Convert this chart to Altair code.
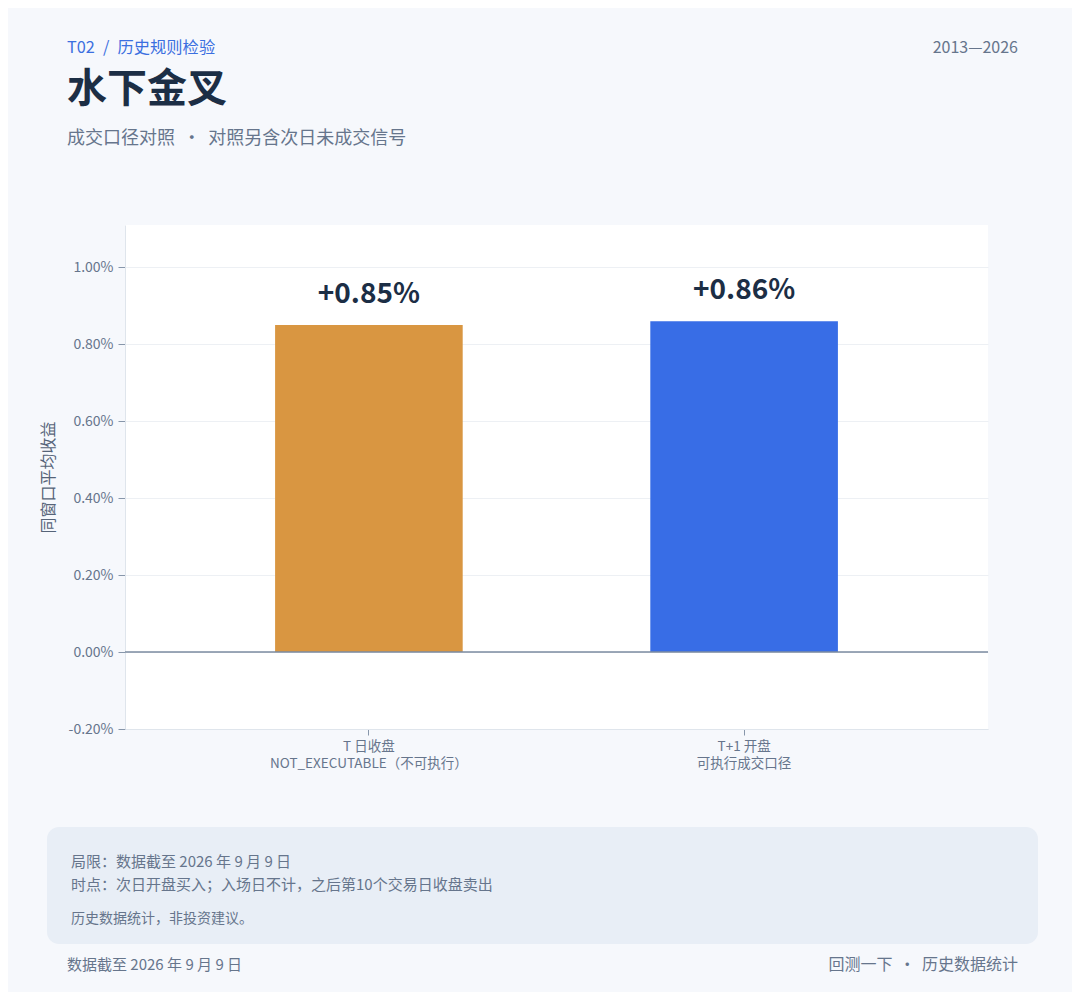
import altair as alt
import pandas as pd

# ---- data ----
categories = ["T 日收盘\nNOT_EXECUTABLE（不可执行）", "T+1 开盘\n可执行成交口径"]
values = [0.0085, 0.0086]
value_labels = ["+0.85%", "+0.86%"]
bar_colors = ["#d99641", "#386de6"]
y_ticks = [-0.002, 0.0, 0.002, 0.004, 0.006, 0.008, 0.010]

SP = "\u2002"   # en space (SVG collapses normal runs of spaces)
DOT = " \u2009·\u2009 "
kicker = f"T02{SP}/{SP}历史规则检验"
title_text = "水下金叉"
subtitle_text = f"成交口径对照{DOT}对照另含次日未成交信号"
period_text = "2013—2026"
note_lines = ["局限：数据截至 2026 年 9 月 9 日",
              "时点：次日开盘买入；入场日不计，之后第10个交易日收盘卖出"]
disclaimer = "历史数据统计，非投资建议。"
footer_left = "数据截至 2026 年 9 月 9 日"
footer_right = f"回测一下{DOT}历史数据统计"
y_title = "同窗口平均收益"

FONT = "Noto Sans CJK SC"
GRAY = "#66758c"
DARK = "#1c2e45"

df = pd.DataFrame({"cat": categories, "val": values, "lab": value_labels})

x_enc = alt.X("cat:N", sort=categories,
              scale=alt.Scale(paddingInner=0.5, paddingOuter=0.4),
              axis=alt.Axis(title=None, labelAngle=0,
                            labelExpr="split(datum.label, '\\n')",
                            labelFontSize=13.5, labelLineHeight=17,
                            labelColor=GRAY, labelPadding=4, labelLimit=400,
                            tickSize=6, tickColor="#8796aa",
                            domainColor="#dfe5ec", grid=False))
y_scale = alt.Scale(domain=[-0.002, 0.0111], nice=False, zero=False)
y_enc = alt.Y("val:Q", scale=y_scale,
              axis=alt.Axis(title=y_title, values=y_ticks,
                            labelExpr="replace(format(datum.value, '.2%'), '\u2212', '-')",
                            labelFontSize=14, labelColor=GRAY,
                            labelPadding=5, tickSize=7, tickColor="#8796aa",
                            titleFontSize=16, titleFontWeight="normal",
                            titleColor="#556378", titlePadding=12,
                            gridColor="#edf0f4", domainColor="#dfe5ec"))

base = alt.Chart(df)

bars = base.mark_bar().encode(
    x=x_enc, y=y_enc, y2=alt.datum(0),
    color=alt.Color("cat:N", scale=alt.Scale(domain=categories, range=bar_colors),
                    legend=None),
)

zero_rule = alt.Chart(pd.DataFrame({"z": [0.0]})).mark_rule(
    color="#7b8ba1", strokeWidth=1.5
).encode(y=alt.Y("z:Q", scale=y_scale))

bar_labels = base.mark_text(
    font=FONT, fontSize=28, fontWeight="bold", color=DARK,
    baseline="alphabetic", dy=-22
).encode(x=alt.X("cat:N", sort=categories), y=alt.Y("val:Q", scale=y_scale), text="lab:N")

# footer panel
panel = alt.Chart(pd.DataFrame({"p": [1]})).mark_rect(
    fill="#e8eef6", cornerRadius=12
).encode(x=alt.value(-78), x2=alt.value(913), y=alt.value(602), y2=alt.value(719))


def txt(s, x, y, size, color=GRAY, weight="normal", align="left"):
    return alt.Chart(pd.DataFrame({"t": [s]})).mark_text(
        font=FONT, fontSize=size, fontWeight=weight, color=color,
        align=align, baseline="middle"
    ).encode(x=alt.value(x), y=alt.value(y), text="t:N")


texts = [
    txt(kicker, -58, -177, 16.3, color="#3b6fe0"),
    txt(period_text, 893, -177, 16, align="right"),
    txt(title_text, -58, -135, 40, color=DARK, weight="bold"),
    txt(subtitle_text, -58, -86, 18),
    txt(note_lines[0], -54, 637, 15),
    txt(note_lines[1], -54, 660, 15),
    txt(disclaimer, -54, 694, 14),
    txt(footer_left, -58, 740, 15),
    txt(footer_right, 893, 740, 16, align="right"),
]

chart = alt.layer(panel, bars, zero_rule, bar_labels, *texts).properties(
    width=863, height=504,
    padding={"left": 117, "top": 217, "right": 84, "bottom": 263},
    autosize=alt.AutoSizeParams(type="none"),
    background="#f6f8fc",
).configure(
    font=FONT
).configure_view(
    fill="white", stroke=None
)

chart.save("out.html", embed_options={"renderer": "svg", "actions": False})
